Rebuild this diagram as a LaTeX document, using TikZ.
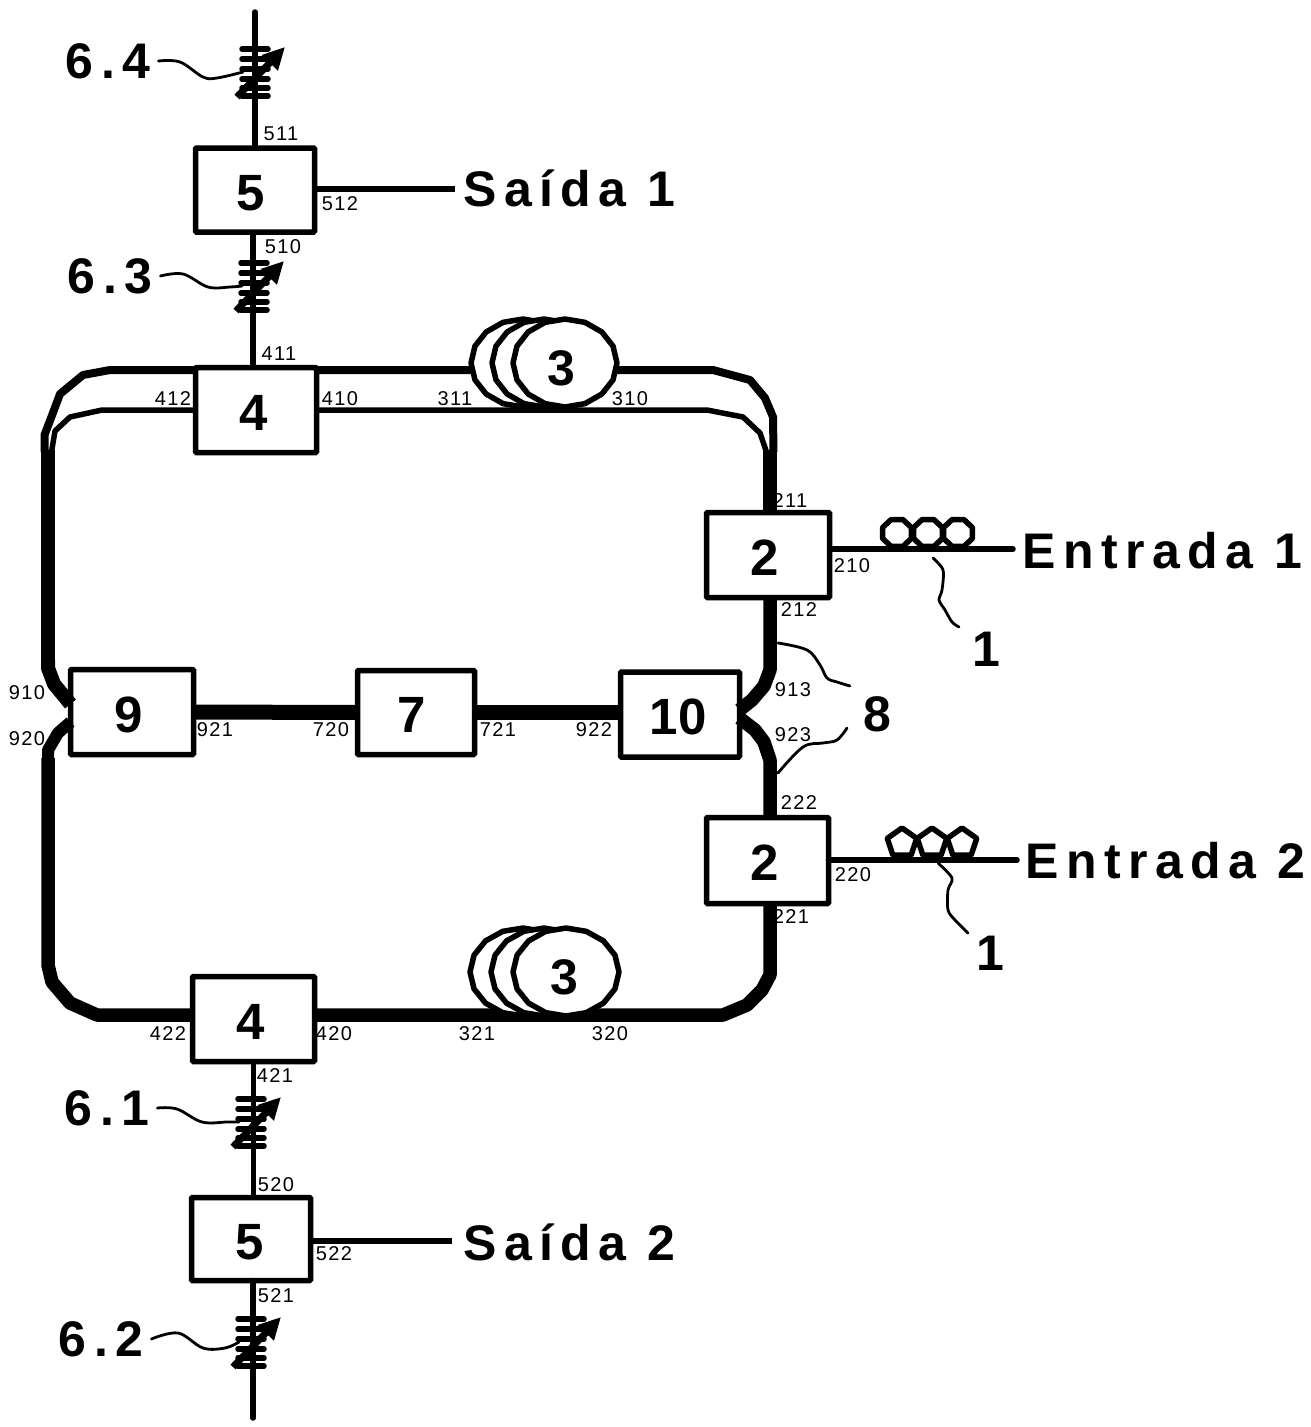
\documentclass[tikz,border=0pt]{standalone}
\usepackage{fontspec}
\setmainfont{Liberation Sans}
\newfontfamily\bigf[LetterSpace=15]{Liberation Sans Bold}
\newfontfamily\numf{Liberation Sans Bold}
\newfontfamily\labf[LetterSpace=7]{Liberation Sans}
\usetikzlibrary{arrows.meta,calc}
\tikzset{
  blk/.style={draw,fill=white,line width=5.5pt,inner sep=0pt,outer sep=0pt,rounded corners=1pt,
     text height=40pt,text depth=0pt,
     font=\fontsize{51}{51}\selectfont\numf},
  lab/.style={inner sep=0pt,font=\fontsize{20}{20}\selectfont\labf},
  big/.style={inner sep=3pt,font=\fontsize{50}{50}\selectfont\bigf},
  fine/.style={line width=5.5pt,line join=round},
  mid/.style={line width=8pt,line join=round},
  fat/.style={line width=13.5pt,line join=round},
  leader/.style={line width=2.8pt,line cap=round,line join=round},
  coilline/.style={draw,fill=white,line width=5.5pt,line join=round},
  grat/.pic={
    \coordinate (-w) at (-11,0);
    \foreach \yy in {-23,-13,-3,7,16,24}
      \draw[line width=5.5pt,line cap=round] (-12,\yy) -- (14,\yy);
    \draw[line width=7pt,-{Triangle[length=22pt,width=21pt]}] (-17,25) -- (31,-25);
  }
}
\begin{document}
\begin{tikzpicture}[x=1pt,y=-1pt]
\useasboundingbox (0,0) rectangle (1311,1427);
% boxes
\node[blk,minimum width=119pt,minimum height=84pt] (sA) at (255,190) {\kern-8pt 5};
\node[blk,minimum width=121pt,minimum height=85pt] (fourA) at (256,410) {\kern-4pt 4};
\node[blk,minimum width=123pt,minimum height=85pt] (twoA) at (768,555) {\kern-6pt 2};
\node[blk,minimum width=122pt,minimum height=86pt] (twoB) at (767.5,860.5) {\kern-5pt 2};
\node[blk,minimum width=123pt,minimum height=85pt] (nine) at (132,712) {\kern-6pt 9};
\node[blk,minimum width=117pt,minimum height=84pt] (seven) at (416,712.5) {\kern-8pt 7};
\node[blk,minimum width=119pt,minimum height=85pt] (ten) at (680,714.5) {\kern-4pt 10};
\node[blk,minimum width=122pt,minimum height=85pt] (fourB) at (253.5,1019) {\kern-5pt 4};
\node[blk,minimum width=119pt,minimum height=83pt] (sB) at (251,1239) {\kern-2pt 5};
% free ends
\coordinate (topend) at (255,12);
\coordinate (botend) at (253,1418);
\coordinate (inA) at (1013,549);
\coordinate (inB) at (1017,860);
\coordinate (outAend) at (455,189);
\coordinate (outBend) at (452,1241);
% labels (big)
\node[big] (l64) at (108,61) {6.4};
\node[big] (l63) at (110,276) {6.3};
\node[big] (l61) at (107,1108) {6.1};
\node[big] (l62) at (101,1339) {6.2};
\node[big,anchor=west,inner sep=0pt] (outA) at (463,188) {Saída 1};
\node[big,anchor=west,inner sep=0pt] (outB) at (463,1242) {Saída 2};
\node[big,anchor=west,inner sep=0pt] (entA) at (1022,551) {Entrada 1};
\node[big,anchor=west,inner sep=0pt] (entB) at (1025,861) {Entrada 2};
\node[big] (lone) at (986,649) {\numf 1};
\node[big] (ltwo) at (990,953) {\numf 1};
\node[big] (leight) at (877,714) {\numf 8};
% thin vertical and outputs
\draw[fine,line cap=round] (topend) -- (sA.north);
\draw[fine] ([xshift=-2pt]sA.south) -- ([xshift=-2pt]sA.south |- fourA.north);
\draw[fine] (fourB.south) -- (fourB.south |- sB.north);
\draw[fine,line cap=round] (sB.south -| botend) -- (botend);
\draw[fine] (sA.east |- outAend) -- (outAend);
\draw[fine] (sB.east |- outBend) -- (outBend);
\draw[fine,line cap=round] (twoA.east |- inA) -- (inA);
\draw[fine,line cap=round] (twoB.east |- inB) -- (inB);
% upper ring
\draw[mid] ([yshift=-2.5pt]fourA.north west) -- (110,370) -- (83,375) -- (60,394) -- (51,418) -- (44.5,435) -- (44.5,452);
\draw[fine] (fourA.west) -- (102,410) -- (70,417) -- (55,431) -- (51.5,452);
\draw[mid] ([yshift=-2.5pt]fourA.north east) -- (713,370) -- (750,380) -- (765,398) -- (773,417) -- (773.5,452);
\draw[fine] (fourA.east) -- (707,410) -- (743,417) -- (760,433) -- (766.5,452);
\draw[line width=14pt] (48,450) -- (48,662);
\draw[line width=14pt] (770,450) -- (twoA.north -| 770,0);
% 9 joins
\draw[line width=14pt,line join=round] (48,660) -- (48,668) -- (54,684) -- (nine.west |- 0,704);
\draw[line width=12pt,line join=round] (nine.west |- 0,722) -- (58,733) -- (48,750) -- (48,760);
% 10 joins
\draw[fat] (twoA.south -| 770,0) -- (770,670) -- (764,686) -- (752,700) -- (ten.east |- 0,710);
\draw[fat] (ten.east |- 0,718) -- (755,730) -- (764,742) -- (770,760) -- (twoB.north -| 770,0);
% centre
\draw[line width=15pt] (nine.east) -- (seven.west);
\draw[line width=15pt] (seven.east) -- (ten.west |- seven.east);
% lower ring
\draw[fat] (twoB.south -| 770,0) -- (770,975) -- (762,990) -- (747,1005) -- (723,1015) -- (fourB.east |- 0,1015);
\draw[fat] (fourB.west |- 0,1015) -- (97,1015) -- (70,1003) -- (52,982) -- (48,965) -- (48,758);
% fibre coils
\foreach \cx in {523,544,565}
  \draw[coilline] plot[samples=17,domain=0:360] ({\cx+52*cos(\x)},{363+44*sin(\x)}) -- cycle;
\foreach \cx in {523,544,566}
  \draw[coilline] plot[samples=17,domain=0:360] ({\cx+53*cos(\x)},{972+44*sin(\x)}) -- cycle;
\node[font=\fontsize{50}{50}\selectfont\numf,inner sep=0pt] (cA) at (561,368) {3};
\node[font=\fontsize{50}{50}\selectfont\numf,inner sep=0pt] (cB) at (564,977) {3};
% polarisation loops
\foreach \cx in {897,928,958}
  \draw[line width=5.5pt,line join=round] plot[samples=9,domain=22.5:382.5] ({\cx+15.5*cos(\x)},{533+14.5*sin(\x)}) -- cycle;
\foreach \cx in {902,932,962}
  \draw[line width=5.5pt,line join=round] plot[samples=6,domain=-90:270] ({\cx+15.5*cos(\x)},{843+15*sin(\x)}) -- cycle;
% gratings
\pic (gD) at (254,72) {grat};
\pic (gC) at (253,286) {grat};
\pic (gA) at (250,1122) {grat};
\pic (gB) at (250,1342) {grat};
% leaders
\draw[leader] plot[smooth,tension=.6] coordinates {([xshift=5pt]l64.east) (180,62) (203,77) (217,78) (gD-w)};
\draw[leader] plot[smooth,tension=.6] coordinates {([xshift=5pt]l63.east) (183,274) (208,287) (230,287) (gC-w)};
\draw[leader] plot[smooth,tension=.6] coordinates {([xshift=5pt]l61.east) (177,1109) (202,1122) (227,1122) (gA-w)};
\draw[leader] plot[smooth,tension=.6] coordinates {([xshift=5pt]l62.east) (178,1333) (203,1348) (225,1348) (gB-w)};
\coordinate (fa) at (933,558); \coordinate (fb) at (938,863);
\draw[leader] plot[smooth,tension=.5] coordinates {(fa) (943,570) (942,590) (939,600) (945,610) (952,622) (959,627)};
\draw[leader] plot[smooth,tension=.5] coordinates {(fb) (952,878) (948,890) (948,910) (955,920) (968,933)};
\coordinate (ha) at (778,643); \coordinate (hb) at (778,773);
\draw[leader] plot[smooth,tension=.6] coordinates {(ha) (807,650) (820,665) (827,678) (837,682) (850,686)};
\draw[leader] plot[smooth,tension=.6] coordinates {(hb) (803,747) (823,743) (837,740) (847,728)};
% port labels
\foreach \nm/\px/\py in {
 511/281/134,512/340/204,510/283/247,411/279/354,412/173/399,410/340/399,311/455/399,310/630/399,
 211/790/501,210/852/566,212/799/610,913/793/690,923/793/735,222/799/803,220/853/875,221/791/917,
 910/27/693,920/27/739,921/215/730,720/331/730,721/498/730,922/594/730,
 422/168/1034,420/334/1034,321/477/1034,320/610/1034,421/275/1076,520/276/1185,522/334/1254,521/276/1296}
  \node[lab] (p\nm) at (\px,\py) {\nm};
\end{tikzpicture}
\end{document}
